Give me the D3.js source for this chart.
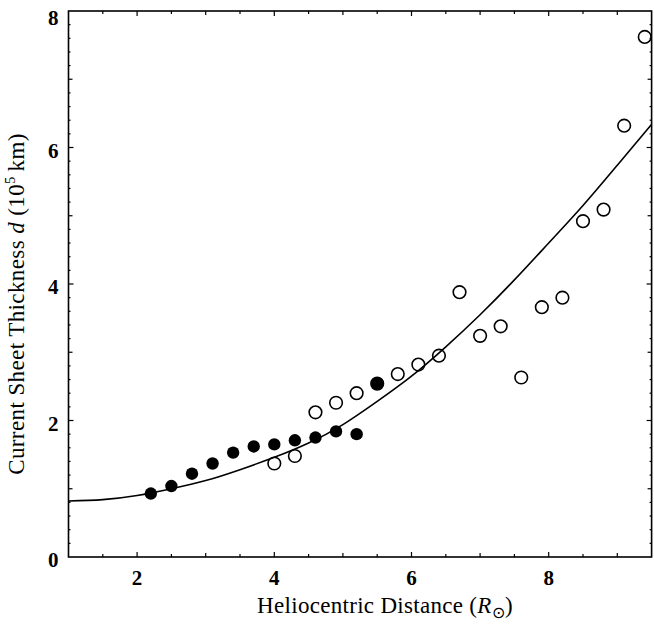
<!DOCTYPE html>
<html>
<head>
<meta charset="utf-8">
<script src="https://cdn.jsdelivr.net/npm/d3@7/dist/d3.min.js"></script>
<style>
  body { margin: 0; background: #fff; }
  text { font-family: "Liberation Serif", "Times New Roman", serif; fill: #000; }
</style>
</head>
<body>
<div id="chart"></div>
<script>
// filled circles (inner series)
const filledX = [2.2, 2.5, 2.8, 3.1, 3.4, 3.7, 4.0, 4.3, 4.6, 4.9, 5.2, 5.5];
const filledY = [0.93, 1.04, 1.22, 1.37, 1.53, 1.62, 1.65, 1.71, 1.75, 1.84, 1.80, 2.54];

// open circles (outer series)
const openX = [4.0, 4.3, 4.6, 4.9, 5.2, 5.5, 5.8, 6.1, 6.4, 6.7, 7.0, 7.3, 7.6, 7.9, 8.2, 8.5, 8.8, 9.1, 9.4];
const openY = [1.37, 1.48, 2.12, 2.26, 2.40, 2.54, 2.68, 2.82, 2.95, 3.88, 3.24, 3.38, 2.63, 3.66, 3.80, 4.92, 5.09, 6.32, 7.62];

// fit curve
const fitX = [1, 1.5, 2, 2.5, 3, 3.5, 4, 4.5, 5, 5.5, 6, 6.5, 7, 7.5, 8, 8.5, 9, 9.5];
const fitY = [0.82, 0.84, 0.90, 1.00, 1.12, 1.28, 1.46, 1.67, 1.94, 2.28, 2.65, 3.08, 3.55, 4.06, 4.60, 5.15, 5.74, 6.34];

const xTickLabels = [2, 4, 6, 8];
const yTickLabels = [0, 2, 4, 6, 8];

const width = 654, height = 625;
const margin = { top: 11, right: 2.4, bottom: 68, left: 68.5 };

const svg = d3.select('#chart').append('svg')
    .attr('width', width)
    .attr('height', height);

const x = d3.scaleLinear().domain([1, 9.5]).range([margin.left, width - margin.right]);
const y = d3.scaleLinear().domain([0, 8]).range([height - margin.bottom, margin.top]);

const x0 = x.range()[0], x1 = x.range()[1];
const y0 = y.range()[0], y1 = y.range()[1];

// ticks, pointing inward on all four sides
const xMinor = d3.range(1.5, 9.5, 0.5);
const yMinor = d3.range(0.2, 8, 0.2).map(v => +v.toFixed(1));

function tickLen(v, major, mid, minor, bigs) {
    if (bigs.includes(v)) return major;
    if (Math.abs(v - Math.round(v)) < 1e-6) return mid;
    return minor;
}

const ticks = svg.append('g').attr('stroke', '#000').attr('stroke-width', 1.2);

xMinor.forEach(v => {
    const len = tickLen(v, 5, 4, 3, xTickLabels);
    ticks.append('line').attr('x1', x(v)).attr('x2', x(v)).attr('y1', y0).attr('y2', y0 - len);
    ticks.append('line').attr('x1', x(v)).attr('x2', x(v)).attr('y1', y1).attr('y2', y1 + len);
});
yMinor.forEach(v => {
    const len = tickLen(v, 5, 4, 2, yTickLabels);
    ticks.append('line').attr('y1', y(v)).attr('y2', y(v)).attr('x1', x0).attr('x2', x0 + len);
    ticks.append('line').attr('y1', y(v)).attr('y2', y(v)).attr('x1', x1).attr('x2', x1 - len);
});

// frame
svg.append('rect')
    .attr('x', x0).attr('y', y1)
    .attr('width', x1 - x0).attr('height', y0 - y1)
    .attr('fill', 'none')
    .attr('stroke', '#000')
    .attr('stroke-width', 1.6);

// tick labels
svg.selectAll('.xlab')
    .data(xTickLabels)
    .enter()
    .append('text')
    .attr('class', 'xlab')
    .attr('x', d => x(d))
    .attr('y', y0 + 28)
    .attr('text-anchor', 'middle')
    .style('font-size', '21px')
    .style('font-weight', 'bold')
    .text(d => d);

svg.selectAll('.ylab')
    .data(yTickLabels)
    .enter()
    .append('text')
    .attr('class', 'ylab')
    .attr('x', x0 - 10)
    .attr('y', d => Math.max(y(d) + 10, 25))
    .attr('text-anchor', 'end')
    .style('font-size', '21px')
    .style('font-weight', 'bold')
    .text(d => d);

// fit curve
const fit = fitX.map((v, i) => ({ x: v, y: fitY[i] }));
const line = d3.line()
    .curve(d3.curveNatural)
    .x(d => x(d.x))
    .y(d => y(d.y));

svg.append('path')
    .datum(fit)
    .attr('d', line)
    .attr('fill', 'none')
    .attr('stroke', '#000')
    .attr('stroke-width', 1.6);

// points
const open = openX.map((v, i) => ({ x: v, y: openY[i] }));
const filled = filledX.map((v, i) => ({ x: v, y: filledY[i] }));

svg.selectAll('.open')
    .data(open)
    .enter()
    .append('circle')
    .attr('class', 'open')
    .attr('cx', d => x(d.x))
    .attr('cy', d => y(d.y))
    .attr('r', 6.3)
    .attr('fill', 'none')
    .attr('stroke', '#000')
    .attr('stroke-width', 1.6);

svg.selectAll('.filled')
    .data(filled)
    .enter()
    .append('circle')
    .attr('class', 'filled')
    .attr('cx', d => x(d.x))
    .attr('cy', d => y(d.y))
    .attr('r', 6.2)
    .attr('fill', '#000');

// axis titles
const xt = svg.append('text')
    .attr('x', 385)
    .attr('y', 613)
    .attr('text-anchor', 'middle')
    .style('font-size', '23px')
    .style('letter-spacing', '0.3px');
xt.append('tspan').text('Heliocentric Distance (');
xt.append('tspan').style('font-style', 'italic').text('R');
xt.append('tspan').attr('dy', 5).style('font-size', '16px').text('\u2299');
xt.append('tspan').attr('dy', -5).text(')');

const yt = svg.append('text')
    .attr('transform', 'translate(24,304) rotate(-90)')
    .attr('text-anchor', 'middle')
    .style('font-size', '23px')
    .style('letter-spacing', '0.4px');
yt.append('tspan').text('Current Sheet Thickness ');
yt.append('tspan').style('font-style', 'italic').text('d');
yt.append('tspan').text(' (10');
yt.append('tspan').attr('dy', -9).style('font-size', '14px').text('5');
yt.append('tspan').attr('dy', 9).text('\u2009km)');
</script>
</body>
</html>
